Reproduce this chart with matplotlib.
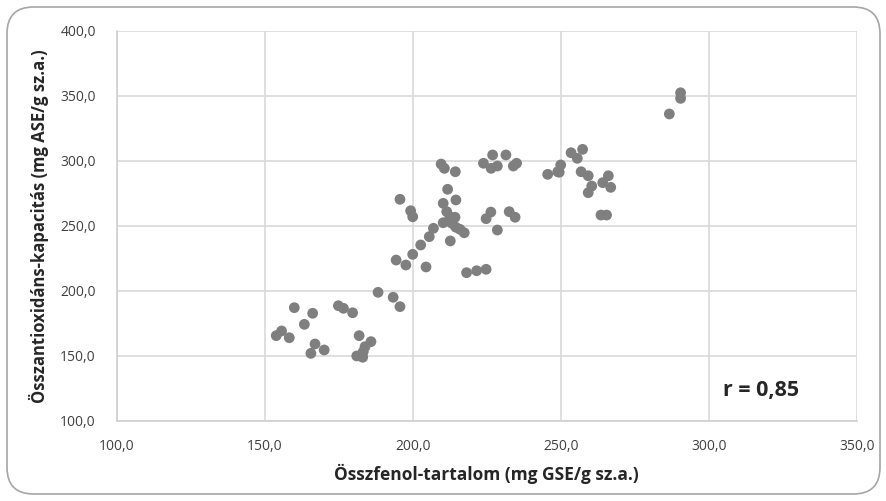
import matplotlib
matplotlib.use("Agg")
import matplotlib.pyplot as plt
from matplotlib.patches import FancyBboxPatch
from matplotlib.ticker import FuncFormatter

plt.rcParams['font.family'] = ['Open Sans', 'DejaVu Sans']

osszfenol = [
    153.9, 155.7, 158.3, 160.0, 163.4, 166.2, 167.0, 165.6, 170.1, 174.9,
    176.6, 179.7, 181.9, 185.9, 183.9, 183.3, 181.1, 183.1, 188.3, 193.4,
    195.7, 197.7, 204.5,
    209.6, 210.7, 214.4, 223.9, 227.0, 226.5, 228.6, 231.5, 234.0, 235.1,
    245.6, 249.0, 195.7, 199.3, 200.0, 211.8, 214.6, 210.3, 211.5, 212.6,
    214.3, 210.3, 213.2, 214.6, 216.0, 217.4, 207.0, 205.6, 202.7, 200.0,
    194.4, 212.7, 226.4, 224.8, 232.6, 234.6, 228.6, 218.2, 221.6, 224.8,
    249.5, 250.0, 253.5, 257.4, 255.6, 256.9, 259.3, 266.1, 264.2, 266.9,
    260.5, 259.3, 263.6, 265.5, 290.5, 290.5, 286.7,
]
antioxidans = [
    165.6, 169.2, 164.0, 187.1, 174.3, 182.8, 159.2, 152.0, 154.6, 188.6,
    186.6, 183.2, 165.6, 161.0, 157.1, 153.3, 150.0, 149.0, 198.9, 195.1,
    187.9, 219.9, 218.4,
    297.5, 294.2, 291.6, 298.1, 304.5, 294.2, 296.0, 304.5, 296.0, 298.1,
    289.6, 291.6, 270.4, 261.6, 257.0, 278.1, 269.9, 267.3, 260.9, 257.0,
    256.6, 252.4, 252.0, 248.9, 247.3, 244.7, 248.1, 241.7, 235.3, 228.1,
    223.7, 238.4, 260.6, 255.5, 260.9, 256.6, 246.8, 214.0, 215.5, 216.6,
    291.2, 296.8, 306.2, 308.8, 301.9, 291.6, 288.5, 288.5, 283.2, 279.6,
    280.6, 275.5, 258.3, 258.3, 352.3, 348.0, 336.0,
]
x_ticks = [100, 150, 200, 250, 300, 350]
y_ticks = [100, 150, 200, 250, 300, 350, 400]
r_label = "r = 0,85"

fig = plt.figure(figsize=(8.86, 5.01), dpi=100)
fig.patch.set_facecolor('white')
border = FancyBboxPatch((7/886, 7/501), 873/886, 487/501,
                        boxstyle="round,pad=0,rounding_size=0.03",
                        transform=fig.transFigure, facecolor='none',
                        edgecolor='#a6a6a6', linewidth=1.2,
                        mutation_aspect=886/501, zorder=10)
fig.patches.append(border)

ax = fig.add_axes([116.7/886, 1 - 421/501, (856.7 - 116.7)/886, (421 - 30.7)/501])
ax.set_facecolor('white')
ax.scatter(osszfenol, antioxidans, s=60, color='#7f7f7f', edgecolors='none', zorder=3)

ax.set_xlim(100, 350)
ax.set_ylim(100, 400)
ax.set_xticks(x_ticks)
ax.set_yticks(y_ticks)
fmt = FuncFormatter(lambda v, p: f"{v:.1f}".replace('.', ','))
ax.xaxis.set_major_formatter(fmt)
ax.yaxis.set_major_formatter(fmt)
ax.grid(True, color='#d9d9d9', linewidth=1.2, zorder=0)
ax.set_axisbelow(True)
for s in ['top', 'right']:
    ax.spines[s].set_visible(False)
for s in ['left', 'bottom']:
    ax.spines[s].set_color('#d0d0d0')
    ax.spines[s].set_linewidth(1.2)
ax.tick_params(axis='x', length=0, labelsize=10, colors='#404040', pad=13)
ax.tick_params(axis='y', length=0, labelsize=10, colors='#404040', pad=15)

ax.set_xlabel("Összfenol-tartalom (mg GSE/g sz.a.)", fontsize=12.5,
              fontweight='bold', color='#262626', labelpad=7)
ax.set_ylabel("Összantioxidáns-kapacitás (mg ASE/g sz.a.)", fontsize=12,
              fontweight='bold', color='#262626', labelpad=8)

ax.text(0.871, 0.077, r_label, transform=ax.transAxes, fontsize=15.5,
        fontweight='bold', color='#262626', ha='center', va='center')

fig.savefig("out.png", dpi=100, facecolor='white')
